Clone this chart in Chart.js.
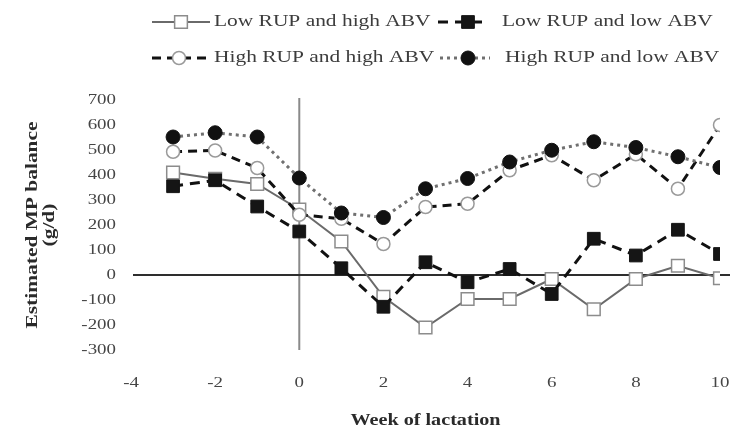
<!DOCTYPE html>
<html>
<head>
<meta charset="utf-8">
<script src="https://cdn.jsdelivr.net/npm/chart.js@4/dist/chart.umd.min.js"></script>
<style>
  html, body { margin: 0; padding: 0; background: #ffffff; }
  #wrap { width: 737px; height: 432px; position: relative; }
</style>
</head>
<body>
<div id="wrap"><canvas id="c" width="737" height="432"></canvas></div>
<script>
// ---- data ----
const weeks = [-3, -2, -1, 0, 1, 2, 3, 4, 5, 6, 7, 8, 9, 10];
const lowRupHighAbv  = [410, 385, 364, 262, 134, -87, -210, -96, -96, -16, -137, -16, 37, -13];
const lowRupLowAbv   = [355, 379, 274, 174, 27, -127, 51, -29, 24, -76, 145, 78, 181, 84];
const highRupHighAbv = [493, 498, 428, 241, 225, 124, 272, 285, 419, 479, 379, 483, 345, 600];
const highRupLowAbv  = [552, 569, 552, 388, 248, 230, 345, 386, 452, 499, 533, 510, 473, 430];
const seriesNames = ['Low RUP and high ABV', 'Low RUP and low ABV', 'High RUP and high ABV', 'High RUP and low ABV'];
const xTicks = [-4, -2, 0, 2, 4, 6, 8, 10];
const yTicks = [-300, -200, -100, 0, 100, 200, 300, 400, 500, 600, 700];
const xTitle = 'Week of lactation';
const yTitle = ['Estimated MP balance', '(g/d)'];

const TEXT_STRETCH = 1.26;
const SERIF = '"Liberation Serif", "Times New Roman", serif';

function pts(arr) { return weeks.map((w, i) => ({ x: w, y: arr[i] })); }

const datasets = [
  { label: seriesNames[0], data: pts(lowRupHighAbv), order: 4,
    borderColor: '#6a6a6a', borderWidth: 2, borderDash: [],
    pointStyle: 'rect', pointRadius: 9, pointBackgroundColor: '#ffffff',
    pointBorderColor: '#8c8c8c', pointBorderWidth: 1.5 },
  { label: seriesNames[1], data: pts(lowRupLowAbv), order: 3,
    borderColor: '#111111', borderWidth: 3, borderDash: [10, 7],
    pointStyle: 'rect', pointRadius: 9, pointBackgroundColor: '#151515',
    pointBorderColor: '#151515', pointBorderWidth: 1 },
  { label: seriesNames[2], data: pts(highRupHighAbv), order: 2,
    borderColor: '#111111', borderWidth: 3, borderDash: [9, 6],
    pointStyle: 'circle', pointRadius: 6.5, pointBackgroundColor: '#ffffff',
    pointBorderColor: '#9a9a9a', pointBorderWidth: 1.5 },
  { label: seriesNames[3], data: pts(highRupLowAbv), order: 1,
    borderColor: '#707070', borderWidth: 3, borderDash: [3, 4],
    pointStyle: 'circle', pointRadius: 7, pointBackgroundColor: '#111111',
    pointBorderColor: '#111111', pointBorderWidth: 1 }
];
datasets.forEach(d => { d.tension = 0; d.fill = false; d.pointHoverRadius = d.pointRadius; });

// stretch text horizontally (the reference typography is wide)
const stretchText = {
  id: 'stretchText',
  beforeInit(chart) {
    const ctx = chart.ctx;
    const orig = CanvasRenderingContext2D.prototype.fillText;
    ctx.fillText = function (t, x, y, mw) {
      this.save();
      this.translate(x, y);
      this.scale(TEXT_STRETCH, 1);
      if (mw !== undefined) orig.call(this, t, 0, 0, mw / TEXT_STRETCH);
      else orig.call(this, t, 0, 0);
      this.restore();
    };
  }
};

// zero reference lines (axes crossing at 0)
const zeroLines = {
  id: 'zeroLines',
  beforeDatasetsDraw(chart) {
    const { ctx, chartArea, scales } = chart;
    const x0 = scales.x.getPixelForValue(0);
    const y0 = scales.y.getPixelForValue(0);
    ctx.save();
    ctx.strokeStyle = '#8a8a8a';
    ctx.lineWidth = 2;
    ctx.beginPath();
    ctx.moveTo(x0, chartArea.top - 2);
    ctx.lineTo(x0, chartArea.bottom);
    ctx.stroke();
    ctx.strokeStyle = '#2e2e2e';
    ctx.lineWidth = 2;
    ctx.beginPath();
    ctx.moveTo(scales.x.getPixelForValue(-4) + 2, y0);
    ctx.lineTo(chartArea.right + 10, y0);
    ctx.stroke();
    ctx.restore();
  }
};

// custom two-column legend
const legendItems = [
  { ds: 0, x1: 152, x2: 210, mx: 181, tx: 214, y: 22 },
  { ds: 1, x1: 438, x2: 485, mx: 468, tx: 502, y: 22 },
  { ds: 2, x1: 152, x2: 210, mx: 179, tx: 214, y: 58 },
  { ds: 3, x1: 440, x2: 490, mx: 468, tx: 505, y: 58 }
];
const customLegend = {
  id: 'customLegend',
  afterDraw(chart) {
    const ctx = chart.ctx;
    legendItems.forEach(it => {
      const d = chart.data.datasets[it.ds];
      ctx.save();
      ctx.strokeStyle = d.borderColor;
      ctx.lineWidth = d.borderWidth;
      ctx.setLineDash(d.borderDash || []);
      ctx.beginPath();
      ctx.moveTo(it.x1, it.y);
      ctx.lineTo(it.x2, it.y);
      ctx.stroke();
      ctx.setLineDash([]);
      ctx.fillStyle = d.pointBackgroundColor;
      ctx.strokeStyle = d.pointBorderColor;
      ctx.lineWidth = d.pointBorderWidth;
      Chart.helpers.drawPoint(ctx, { pointStyle: d.pointStyle, radius: d.pointRadius, rotation: 0, borderWidth: d.pointBorderWidth }, it.mx, it.y);
      ctx.fillStyle = '#3c3c3c';
      ctx.font = '17px ' + SERIF;
      ctx.textAlign = 'left';
      ctx.textBaseline = 'middle';
      ctx.fillText(d.label, it.tx, it.y);
      ctx.restore();
    });
  }
};

new Chart(document.getElementById('c'), {
  type: 'line',
  data: { datasets },
  plugins: [stretchText, zeroLines, customLegend],
  options: {
    responsive: false,
    animation: false,
    events: [],
    layout: { padding: { left: 0, right: 17, top: 100, bottom: 0 } },
    plugins: { legend: { display: false }, tooltip: { enabled: false } },
    scales: {
      x: {
        type: 'linear', min: -4, max: 10,
        afterBuildTicks(s) { s.ticks = xTicks.map(v => ({ value: v })); },
        afterFit(s) { s.height = 82; s.paddingLeft = 0; s.paddingRight = 0; },
        grid: { display: false, drawTicks: false },
        border: { display: false },
        ticks: { color: '#454545', padding: 24, font: { family: SERIF, size: 15 } },
        title: { display: true, text: xTitle, color: '#2a2a2a',
                 font: { family: SERIF, size: 16, weight: 'bold', lineHeight: 1.2 },
                 padding: { top: 0, bottom: 1.5 } }
      },
      y: {
        type: 'linear', min: -300, max: 700,
        afterBuildTicks(s) { s.ticks = yTicks.map(v => ({ value: v })); },
        afterFit(s) { s.width = 131; s.paddingTop = 0; s.paddingBottom = 0; },
        grid: { display: false, drawTicks: false },
        border: { display: false },
        ticks: { color: '#454545', padding: 15, font: { family: SERIF, size: 15 } },
        title: { display: true, text: yTitle, color: '#2a2a2a',
                 font: { family: SERIF, size: 17, weight: 'bold', lineHeight: 1.0 },
                 padding: { top: 24.5, bottom: 0 } }
      }
    }
  }
});
</script>
</body>
</html>
